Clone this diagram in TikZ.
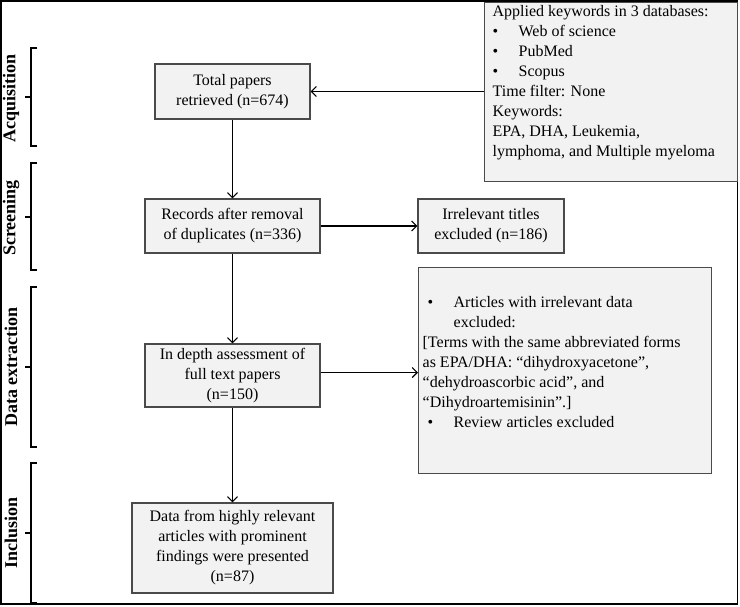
\documentclass[tikz,border=0pt]{standalone}
\usepackage{fontspec}
\setmainfont{Liberation Serif}
\usetikzlibrary{arrows.meta}
\definecolor{boxfill}{HTML}{F2F2F2}
\definecolor{boxline}{HTML}{4A4A4A}
\begin{document}
\begin{tikzpicture}[x=1pt,y=-1pt,
  stagebox/.style={draw=boxline, fill=boxfill, line width=1.3pt, align=center, inner sep=0pt,
    font=\fontsize{16}{20}\selectfont},
  textbox/.style={draw=boxline, fill=boxfill, line width=1.3pt, anchor=north west, inner ysep=0pt,
    font=\fontsize{16}{20}\selectfont},
  flow/.style={line width=1.1pt, -{Straight Barb[length=5pt,width=10pt]}},
  bracket/.style={line width=1.1pt},
  phase/.style={rotate=90, font=\fontsize{18}{20}\selectfont\bfseries, inner sep=0pt}
]
\useasboundingbox (0,0) rectangle (740,606);
\fill[white] (0,0) rectangle (740,606);
\draw[line width=1.6pt] (1,1) rectangle (737.5,604);

% main flow boxes
\node[stagebox, minimum width=155pt, minimum height=55pt] (total) at (232.5,91.5)
  {Total papers\\retrieved (n=674)};
\node[stagebox, minimum width=175pt, minimum height=54pt] (records) at (232.5,226)
  {Records after removal\\of duplicates (n=336)};
\node[stagebox, minimum width=146pt, minimum height=54pt] (irrel) at (491,226)
  {Irrelevant titles\\excluded (n=186)};
\node[stagebox, minimum width=175pt, minimum height=63pt] (depth) at (232.5,375.5)
  {In depth assessment of\\full text papers\\(n=150)};
\node[stagebox, minimum width=201pt, minimum height=90pt] (data) at (232.5,548)
  {Data from highly relevant\\articles with prominent\\findings were presented\\(n=87)};

% keyword box
\node[textbox, inner xsep=8pt] (kw) at (484,2)
  {\parbox[t][179pt][t]{237pt}{\raggedright\strut Applied keywords in 3 databases:\\
   \makebox[26pt][l]{\textbullet}Web of science\\
   \makebox[26pt][l]{\textbullet}PubMed\\
   \makebox[26pt][l]{\textbullet}Scopus\\
   Time filter: None\\
   Keywords:\\
   EPA, DHA, Leukemia,\\
   lymphoma, and Multiple myeloma}};

% exclusion box
\node[textbox, inner xsep=4pt] (excl) at (418,267)
  {\parbox[t][206pt][t]{285pt}{\raggedright\vspace*{26pt}\strut
   \hspace*{5pt}\makebox[26pt][l]{\textbullet}Articles with irrelevant data\\
   \hspace*{31pt}excluded:\\
   {[}Terms with the same abbreviated forms\\
   as EPA/DHA: “dihydroxyacetone”,\\
   “dehydroascorbic acid”, and\\
   “Dihydroartemisinin”.]\\
   \hspace*{5pt}\makebox[26pt][l]{\textbullet}Review articles excluded}};

% connectors
\draw[flow] (kw.west |- total.east) -- (total.east);
\draw[flow] (total.south) -- (records.north);
\draw[flow] (records.east) -- (irrel.west);
\draw[flow] (records.south) -- (depth.north);
\draw[flow] ([yshift=3pt]depth.east) -- ([yshift=3pt]depth.east -| excl.west);
\draw[flow] (depth.south) -- (data.north);

% phase brackets
\draw[bracket] (37,48) -- (31,48) -- (31,146) -- (37,146) (31,97) -- (25,97);
\draw[bracket] (37,163) -- (31,163) -- (31,270) -- (37,270) (31,217) -- (25,217);
\draw[bracket] (37,287) -- (31,287) -- (31,447) -- (37,447) (31,367) -- (25,367);
\draw[bracket] (37,463) -- (31,463) -- (31,603) -- (37,603) (31,533) -- (25,533);

% phase labels
\node[phase] (acq) at (11,98) {Acquisition};
\node[phase] (scr) at (11,218) {Screening};
\node[phase] (ext) at (11,367) {Data extraction};
\node[phase] (inc) at (11,533) {Inclusion};
\end{tikzpicture}
\end{document}
